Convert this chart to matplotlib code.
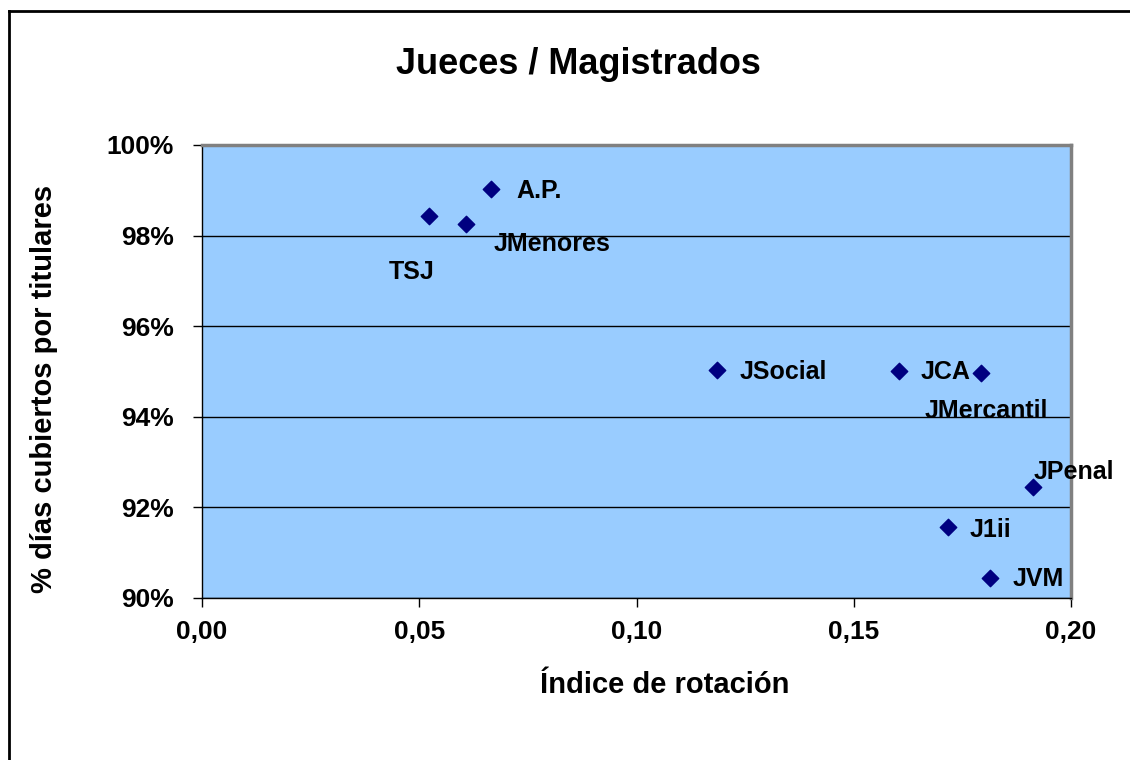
import matplotlib
matplotlib.use("Agg")
import matplotlib.pyplot as plt
from matplotlib.lines import Line2D
from matplotlib.ticker import FuncFormatter

plt.rcParams["font.family"] = ["Liberation Sans", "DejaVu Sans"]
plt.rcParams["font.weight"] = "bold"

# datos
nombres = ["TSJ", "JMenores", "A.P.", "JSocial", "JCA", "JMercantil", "JPenal", "J1ii", "JVM"]
rotacion = [0.0522, 0.0608, 0.0665, 0.1185, 0.1604, 0.1793, 0.1913, 0.1717, 0.1814]
cubiertos = [98.43, 98.26, 99.03, 95.03, 95.01, 94.97, 92.45, 91.57, 90.44]

# desplazamiento de etiquetas (pixeles) y alineacion
offsets = [(-40, -56, "left"), (27, -20, "left"), (25, -2, "left"), (23, -2, "left"),
           (22, -1, "left"), (5, -38, "center"), (0, 15, "left"), (22, -3, "left"), (22, -1, "left")]

fig = plt.figure(figsize=(11.3, 7.6), dpi=100)
ax = fig.add_axes([202/1130, 1-598/760, 869/1130, 453/760])
ax.set_facecolor("#99CCFF")

ax.scatter(rotacion, cubiertos, marker="D", s=70, color="#000080", zorder=3, clip_on=False)
for n, x, y, (dx, dy, ha) in zip(nombres, rotacion, cubiertos, offsets):
    ax.annotate(n, (x, y), xytext=(dx, dy), textcoords="offset pixels",
                ha=ha, va="center", fontsize=18, fontweight="bold", annotation_clip=False)

ax.set_xlim(0, 0.20)
ax.set_ylim(90, 100)
ax.set_xticks([0, 0.05, 0.10, 0.15, 0.20])
ax.set_yticks([90, 92, 94, 96, 98, 100])
ax.xaxis.set_major_formatter(FuncFormatter(lambda v, p: f"{v:.2f}".replace(".", ",")))
ax.yaxis.set_major_formatter(FuncFormatter(lambda v, p: f"{v:.0f}%"))
ax.yaxis.grid(True, color="black", linewidth=1)
ax.set_axisbelow(True)
ax.tick_params(axis="both", labelsize=19, length=6.5, width=1, direction="out")
ax.tick_params(axis="x", pad=9)
ax.tick_params(axis="y", pad=14)

for s in ["top", "right"]:
    ax.spines[s].set_color("#808080")
    ax.spines[s].set_linewidth(2.5)
for s in ["left", "bottom"]:
    ax.spines[s].set_color("black")
    ax.spines[s].set_linewidth(1)

fig.text(578/1130, 1-64/760, "Jueces / Magistrados", ha="center", va="center",
         fontsize=26, fontweight="bold")
fig.text(665/1130, 1-685/760, "Índice de rotación", ha="center", va="center",
         fontsize=21, fontweight="bold")
fig.text(44/1130, 1-389/760, "% días cubiertos por titulares", ha="center", va="center",
         rotation=90, fontsize=21, fontweight="bold")

# marco del grafico
fig.add_artist(Line2D([9/1130, 9/1130], [0, 1-11/760], color="black", linewidth=2))
fig.add_artist(Line2D([9/1130, 1], [1-11/760, 1-11/760], color="black", linewidth=2))

fig.savefig("out.png", dpi=100)
